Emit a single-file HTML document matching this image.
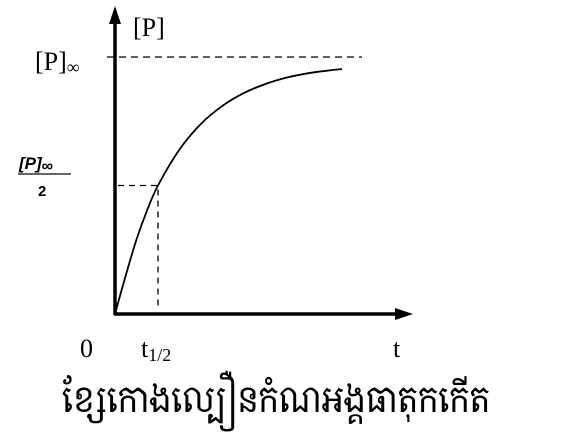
<!DOCTYPE html>
<html><head><meta charset="utf-8"><style>
html,body{margin:0;padding:0;background:#fff;}
svg{display:block;}
text{font-family:"Liberation Serif",serif;fill:#000;}
</style></head><body>
<svg width="569" height="438" viewBox="0 0 569 438">
<g id="plot"></g>
<text x="133" y="36" font-size="26">[P]</text>
<text x="35" y="70" font-size="26">[P]<tspan font-size="18" dy="3">∞</tspan></text>
<g>
<text x="19" y="169" font-size="17" font-weight="bold" fill="#333" font-style="italic" style="font-family:'Liberation Sans',sans-serif">[P]<tspan font-size="16" font-style="normal" dy="2">∞</tspan></text>
<line x1="18" y1="174" x2="71" y2="174" stroke="#333" stroke-width="1.5"/>
<text x="38" y="196" font-size="15" font-weight="bold" fill="#333" style="font-family:'Liberation Sans',sans-serif">2</text>
</g>
<text x="80" y="357" font-size="26">0</text>
<text x="141" y="357" font-size="26">t<tspan font-size="18" dy="4">1/2</tspan></text>
<text x="393" y="357" font-size="26">t</text>
<text x="276" y="412" font-size="36" text-anchor="middle" textLength="428" lengthAdjust="spacingAndGlyphs" style="font-family:'Liberation Serif','Khmer OS','Noto Serif Khmer',serif">ខ្សែកោងល្បឿនកំណអង្គធាតុកកើត</text>
</svg>
<script>
const times=[0,0.25,0.5,0.75,1,1.5,2,2.5,3,3.5,4,4.5,5,5.28];
const values=[0,0.15,0.29,0.405,0.5,0.64,0.74,0.81,0.86,0.895,0.92,0.937,0.948,0.953];
const halfTime=[1];
const pInf=[1];
const ns="http://www.w3.org/2000/svg";
const x0=115,y0=314,xs=43,ys=257;
const X=t=>x0+t*xs, Y=p=>y0-p*ys;
const g=document.getElementById('plot');
function mk(tag,attrs){const e=document.createElementNS(ns,tag);for(const k in attrs)e.setAttribute(k,attrs[k]);g.appendChild(e);return e;}
let e;
e=mk('line',{x1:107,y1:Y(pInf[0]),x2:362,y2:Y(pInf[0]),stroke:'#000','stroke-width':1.3,'stroke-dasharray':'7,5'});


const th=halfTime[0];
e=mk('polyline',{points:`${x0+3},${Y(pInf[0]/2)} ${X(th)},${Y(pInf[0]/2)} ${X(th)},${y0-4}`,fill:'none',stroke:'#000','stroke-width':1.3,'stroke-dasharray':'6,5'});


const pts=times.map((t,i)=>[X(t),Y(values[i])]);
let d='M'+pts[0][0]+','+pts[0][1];
for(let i=0;i<pts.length-1;i++){const p0=pts[i-1]||pts[i],p1=pts[i],p2=pts[i+1],p3=pts[i+2]||p2;
d+=` C${p1[0]+(p2[0]-p0[0])/6},${p1[1]+(p2[1]-p0[1])/6} ${p2[0]-(p3[0]-p1[0])/6},${p2[1]-(p3[1]-p1[1])/6} ${p2[0]},${p2[1]}`;}
e=mk('path',{d:d,fill:'none',stroke:'#000','stroke-width':1.8});


e=mk('line',{x1:x0,y1:y0+1,x2:x0,y2:20,stroke:'#000','stroke-width':3.5});


e=mk('polygon',{points:`${x0},6 ${x0-6},24 ${x0+6},24`,fill:'#000'});


e=mk('line',{x1:x0-1,y1:y0,x2:398,y2:y0,stroke:'#000','stroke-width':3.5});


e=mk('polygon',{points:`413,${y0} 395,${y0-6} 395,${y0+6}`,fill:'#000'});


</script>
</body></html>
